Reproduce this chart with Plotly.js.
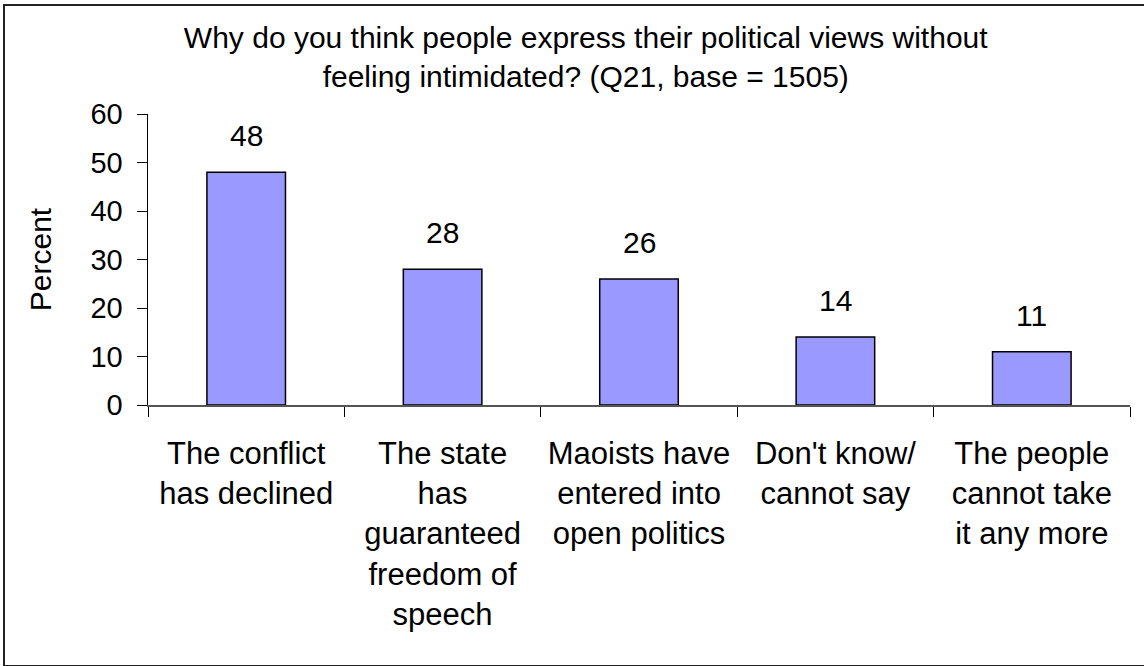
<!DOCTYPE html>
<html>
<head>
<meta charset="utf-8">
<script src="https://cdn.plot.ly/plotly-3.0.1.min.js"></script>
<style>
html,body{margin:0;padding:0;background:#fff;}
#wrap{position:relative;width:1144px;height:666px;overflow:hidden;}
#chart{width:1144px;height:666px;}
#frame{position:absolute;left:3px;top:4px;width:1160px;height:659px;border:2px solid #222;pointer-events:none;}
</style>
</head>
<body>
<div id="wrap"><div id="chart"></div><div id="frame"></div></div>
<script>
const categories = [
  "The conflict<br>has declined",
  "The state<br>has<br>guaranteed<br>freedom of<br>speech",
  "Maoists have<br>entered into<br>open politics",
  "Don't know/<br>cannot say",
  "The people<br>cannot take<br>it any more"
];
const values = [48, 28, 26, 14, 11];
const valueLabels = ["48", "28", "26", "14", "11"];
const yTicks = [0, 10, 20, 30, 40, 50, 60];

const font = "Liberation Sans, Arial, sans-serif";

const trace = {
  type: "bar",
  x: categories,
  y: values,
  marker: {color: "#9999FF", line: {color: "#000000", width: 1.5}},
  width: 0.4,
  hoverinfo: "skip"
};

const annotations = categories.map((c, i) => ({
  x: c, y: values[i], xref: "x", yref: "y",
  text: valueLabels[i], showarrow: false,
  yanchor: "bottom", yshift: 18,
  font: {family: font, size: 30, color: "#000"}
}));

const layout = {
  width: 1144, height: 666,
  margin: {l: 148, r: 14, t: 114, b: 261},
  paper_bgcolor: "#fff", plot_bgcolor: "#fff",
  showlegend: false,
  title: {
    text: "Why do you think people express their political views without<br>feeling intimidated? (Q21, base = 1505)",
    x: 0.512, xref: "container", xanchor: "center",
    y: 0.928, yref: "container", yanchor: "top",
    font: {family: font, size: 30, color: "#000"}
  },
  xaxis: {
    type: "category",
    tickson: "boundaries",
    ticks: "outside", ticklen: 10, tickcolor: "#000", tickwidth: 1,
    showline: true, linecolor: "#555", linewidth: 1.5,
    showgrid: false, zeroline: false,
    tickfont: {family: font, size: 31, color: "#000"},
    tickangle: 0,
    ticklabelstandoff: 20,
    automargin: false
  },
  yaxis: {
    range: [0, 60],
    tickvals: yTicks,
    ticktext: yTicks.map(String),
    ticks: "outside", ticklen: 10, tickcolor: "#000", tickwidth: 1,
    showline: true, linecolor: "#000", linewidth: 1.5,
    showgrid: false, zeroline: false,
    tickfont: {family: font, size: 29, color: "#000"},
    ticklabelstandoff: 8,
    title: {text: "Percent", font: {family: font, size: 30, color: "#000"}, standoff: 30},
    automargin: false
  },
  annotations: annotations
};

Plotly.newPlot("chart", [trace], layout, {displayModeBar: false, staticPlot: true});
</script>
</body>
</html>
